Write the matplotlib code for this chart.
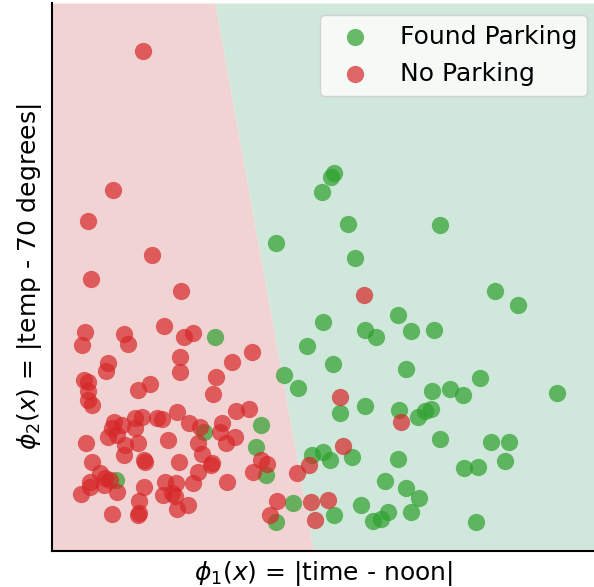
import numpy as np
import matplotlib
matplotlib.use("Agg")
import matplotlib.pyplot as plt

# phi1 = |time - noon|, phi2 = |temp - 70 degrees| (arbitrary units)
no_parking_x = [9.10, 6.07, 3.57, 10.00, 3.93, 12.87, 3.27, 2.97, 7.20, 7.60, 11.23, 13.17, 14.07,
                12.77, 12.77, 20.00, 17.97, 5.60, 5.43, 3.23, 3.57, 3.57, 8.57, 9.77, 16.37, 16.07,
                3.63, 3.97, 12.50, 18.40, 19.70, 6.23, 5.97, 6.97, 5.57, 6.47, 8.30, 9.03, 8.30,
                10.47, 10.97, 13.70, 14.77, 16.97, 16.83, 18.33, 17.40, 3.37, 7.30, 8.63, 11.57,
                14.57, 7.17, 9.15, 9.30, 12.70, 14.97, 15.87, 16.00, 4.03, 4.80, 5.30, 5.80, 3.80,
                3.80, 5.23, 6.47, 2.87, 9.23, 11.30, 12.37, 14.07, 14.63, 17.53, 11.13, 11.97, 12.30,
                8.70, 13.63, 12.50, 8.70, 8.60, 5.97, 20.13, 20.90, 21.47,
                31.17, 28.80, 34.90, 29.07, 25.70, 24.47, 22.53, 25.93, 27.63, 26.33, 21.80]
no_parking_y = [49.95, 36.05, 32.92, 29.55, 27.12, 25.98, 21.88, 20.55, 21.62, 20.65, 22.48, 21.32, 21.72,
                19.38, 17.85, 19.88, 18.88, 18.78, 17.95, 17.05, 16.82, 15.98, 16.05, 16.62, 17.38, 15.62,
                15.05, 14.55, 13.88, 14.00, 14.20, 12.88, 12.22, 12.55, 11.38, 11.55, 13.22, 13.38, 12.22,
                13.22, 13.15, 12.72, 12.38, 12.72, 11.88, 11.38, 10.72, 10.72, 10.55, 10.72, 11.05,
                10.72, 9.55, 9.05, 8.90, 8.88, 9.62, 8.55, 8.75, 8.88, 7.72, 7.22, 7.05, 6.88,
                6.38, 6.55, 5.88, 5.62, 6.38, 6.82, 6.72, 6.72, 7.82, 6.82, 5.55, 5.72, 5.45,
                4.95, 4.55, 4.15, 3.72, 3.60, 3.62, 7.88, 9.05, 8.65,
                25.58, 15.38, 12.82, 10.48, 8.55, 7.72, 4.98, 4.88, 5.03, 3.05, 3.55]

parking_x = [28.23, 27.90, 26.97, 29.57, 38.83, 22.40, 30.33, 44.27, 46.60, 34.60, 27.13, 31.30, 32.40,
             35.90, 38.17, 25.50, 28.13, 35.37, 42.80, 23.17, 24.60, 38.03, 39.80, 41.13, 50.47, 28.75,
             31.30, 34.67, 37.30, 37.90, 36.63, 38.77, 43.90, 45.70, 45.27, 41.23, 42.60, 34.57, 20.90,
             20.40, 27.07, 26.03, 27.82, 29.97, 21.43, 33.27, 35.40, 36.67, 35.93, 30.88, 33.60, 32.87,
             32.07, 42.37, 28.23, 24.05, 22.35, 16.30, 15.23, 6.37]
parking_y = [37.78, 37.38, 35.88, 32.68, 32.58, 30.75, 29.22, 25.98, 24.52, 23.58, 22.82, 22.05, 21.38,
             21.95, 22.08, 20.48, 18.62, 18.12, 17.28, 17.52, 16.28, 15.95, 16.18, 15.58, 15.78, 13.78,
             14.45, 14.05, 13.98, 14.18, 13.35, 11.12, 10.85, 10.82, 8.98, 8.28, 8.38, 9.12, 12.60,
             10.38, 9.88, 9.55, 9.05, 9.32, 7.58, 6.95, 6.28, 5.25, 3.85, 4.55, 3.82, 3.15,
             2.95, 2.85, 3.53, 4.72, 2.85, 21.32, 11.88, 7.03]

labels = ["Found Parking", "No Parking"]
xlabel = r"$\phi_1(x)$ = |time - noon|"
ylabel = r"$\phi_2(x)$ = |temp - 70 degrees|"

# linear decision boundary: x = b0 + b1 * y
boundary_b0 = 26.15
boundary_b1 = -0.18
x_max, y_max = 54.2, 54.75

fig = plt.figure(figsize=(5.94, 5.87), dpi=100)
ax = fig.add_axes([52 / 594, (587 - 550.5) / 587, (594 - 52) / 594, (550.5 - 3) / 587])

yy = np.linspace(0, y_max, 50)
xb = boundary_b0 + boundary_b1 * yy
ax.fill_betweenx(yy, 0, xb, color="#f2d3d4", lw=0, zorder=0)
ax.fill_betweenx(yy, xb, x_max, color="#d0e7db", lw=0, zorder=0)

ax.scatter(parking_x, parking_y, s=155, color="tab:green", alpha=0.7, lw=0, label=labels[0], zorder=2)
ax.scatter(no_parking_x, no_parking_y, s=155, color="tab:red", alpha=0.7, lw=0, label=labels[1], zorder=2)

ax.set_xlim(0, x_max)
ax.set_ylim(0, y_max)
ax.set_xticks([])
ax.set_yticks([])
for side in ["top", "right"]:
    ax.spines[side].set_visible(False)
for side in ["left", "bottom"]:
    ax.spines[side].set_linewidth(1.5)
ax.set_xlabel(xlabel, fontsize=18, labelpad=6)
ax.set_ylabel(ylabel, fontsize=18, labelpad=6)
ax.legend(loc="upper right", fontsize=18, borderaxespad=0,
          bbox_to_anchor=(587 / 594, 1 - 15 / 587), bbox_transform=fig.transFigure)

fig.savefig("out.png", dpi=100)
